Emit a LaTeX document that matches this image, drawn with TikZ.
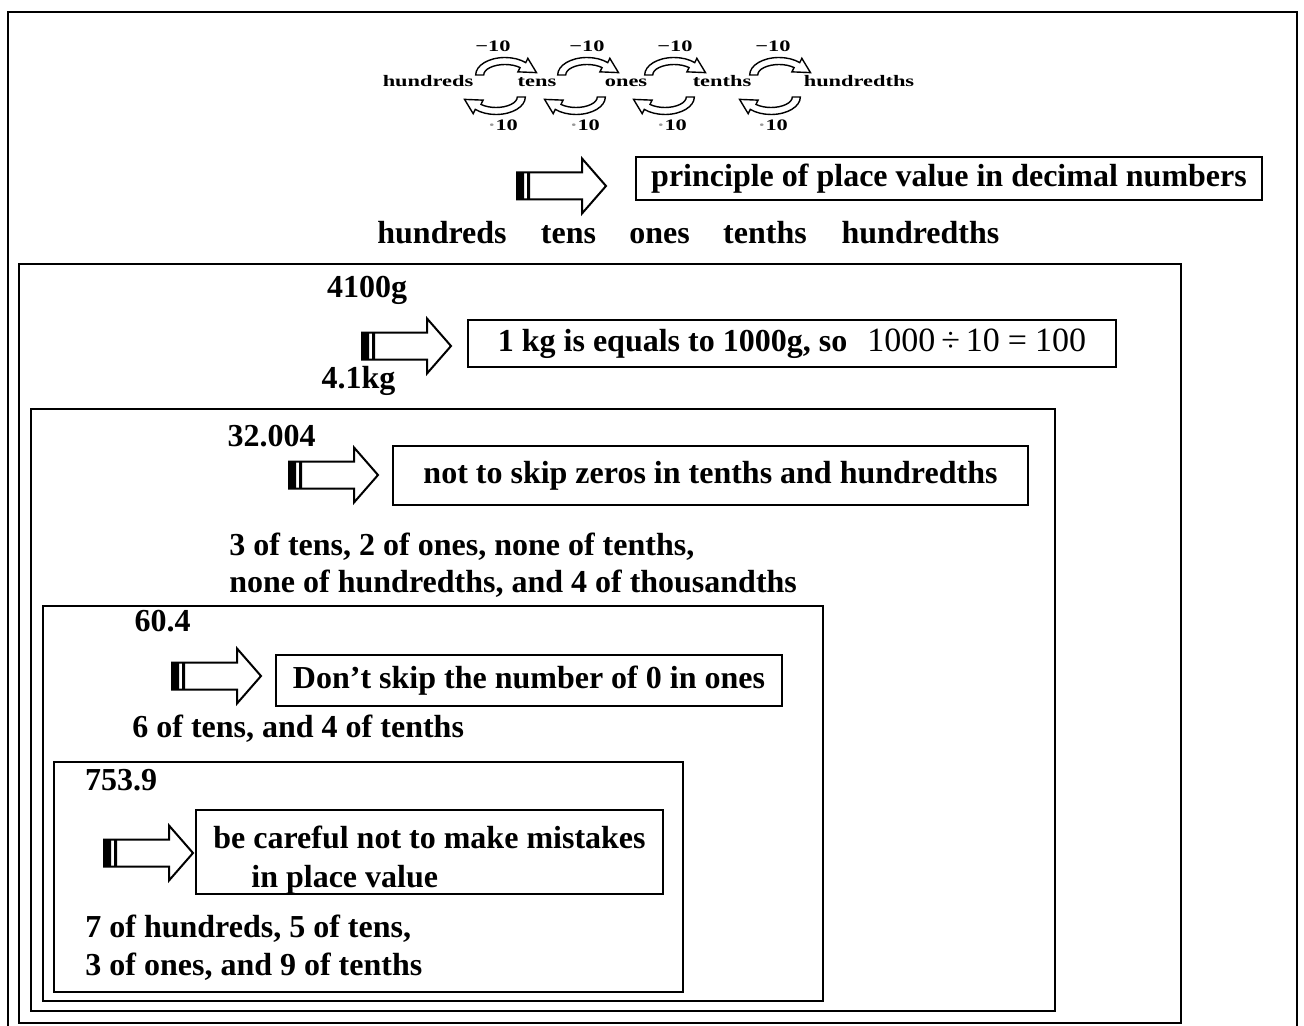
\documentclass[tikz,border=0pt]{standalone}
\usepackage{fontspec}
\setmainfont{Liberation Serif}
\usepackage{graphicx}
\usetikzlibrary{positioning}

\newcommand{\stretchlab}[1]{\scalebox{1.4}[1]{#1}}

\tikzset{
  curlyarrow/.pic={
    \begin{scope}[yscale=-1, line width=0.7pt]
      \draw[fill=white] (-25.5,0) arc[start angle=180, end angle=45, x radius=25.5, y radius=17.5]
        -- (19.86,16.65) -- (27.36,2.38) -- (11.26,3.15)
        -- (13.08,7.42) arc[start angle=45, end angle=180, x radius=18.5, y radius=10.5] -- cycle;
    \end{scope}
  },
  fatarrow/.pic={
    \draw[line width=1pt, fill=white] (0,-13.5) -- (65,-13.5) -- (65,-27.5) -- (89,0)
      -- (65,27.5) -- (65,13.5) -- (0,13.5) -- cycle;
    \fill (0,-13.5) rectangle (7,13.5) (10,-13.5) rectangle (13,13.5);
  }
}

\begin{document}
\begin{tikzpicture}[x=0.5pt, y=-0.5pt,
  smalllab/.style={font=\bfseries\fontsize{8}{9}\selectfont, inner sep=0},
  mainlab/.style={font=\bfseries\fontsize{16}{18.5}\selectfont, inner sep=0},
  textbox/.style={mainlab, draw, line width=1pt, align=center},
  frame/.style={line width=1pt}]
\useasboundingbox (0,0) rectangle (1304,1026);

% nested frames
\draw[frame] (8,1026) -- (8,12) -- (1297,12) -- (1297,1026);
\draw[frame] (19,264) rectangle (1181,1023);
\draw[frame] (31,409) rectangle (1055,1011);
\draw[frame] (43,606) rectangle (823,1001);
\draw[frame] (54,762) rectangle (683,992);

% small place value chain
\foreach \x/\w [count=\i] in {428/hundreds,537/tens,626/ones,722/tenths,859/hundredths}
  \node[smalllab, anchor=base] (p\i) at (\x,87) {\stretchlab{\w}};
\foreach \x/\y [count=\i] in {493/505,587/587,675/674,773/779} {
  \node[smalllab] (d\i) at (\x,46) {\stretchlab{−10}};
  \pic[xscale=1.15] at (\y,75) {curlyarrow};
}
\foreach \x/\y [count=\i] in {503/496,585/576,672/665,773/771} {
  \node[smalllab] (m\i) at (\x,125) {\stretchlab{{\color{black!40}·}10}};
  \pic[xscale=1.15, rotate=180] at (\y,97) {curlyarrow};
}

% principle
\pic at (517,186) {fatarrow};
\node[textbox, minimum width=313pt, minimum height=21.5pt] (principle) at (949,178.5)
  {principle of place value in decimal numbers};
\foreach \x/\w [count=\i] in {442/hundreds,568.5/tens,659.5/ones,765/tenths,920.5/hundredths}
  \node[mainlab, anchor=base] (q\i) at (\x,244) {\w};

% 4100g
\node[mainlab] (gram) at (367,290) {4100g};
\node[mainlab] (kilo) at (358.5,381) {4.1kg};
\pic at (362,346) {fatarrow};
\node[textbox, minimum width=324pt, minimum height=23.5pt] (kgbox) at (792,343.5)
  {1 kg is equals to 1000g, so\hspace{10pt}{\mdseries\fontsize{17}{20}\selectfont
  1000\hspace{3pt}÷\hspace{3pt}10\hspace{4pt}=\hspace{4pt}100}};

% 32.004
\node[mainlab] (num1) at (271.5,436) {32.004};
\pic at (289,475) {fatarrow};
\node[textbox, minimum width=317.5pt, minimum height=29.5pt] (zerobox) at (710.5,475.5)
  {not to skip zeros in tenths and hundredths};
\node[mainlab, anchor=west, align=left] (read1) at (229,565)
  {3 of tens, 2 of ones, none of tenths,\\none of hundredths, and 4 of thousandths};

% 60.4
\node[mainlab] (num2) at (162.5,621) {60.4};
\pic at (172,676) {fatarrow};
\node[textbox, minimum width=253pt, minimum height=25.5pt] (onesbox) at (529,680.5)
  {Don’t skip the number of 0 in ones};
\node[mainlab, anchor=west] (read2) at (132,729) {6 of tens, and 4 of tenths};

% 753.9
\node[mainlab] (num3) at (121,780) {753.9};
\pic at (104,853) {fatarrow};
\node[textbox, align=left, font=\bfseries\fontsize{16}{19.5}\selectfont,
  minimum width=233.5pt, minimum height=42pt] (carebox) at (429.5,852)
  {\rule{0pt}{19pt}be careful not to make mistakes\\\hspace*{19pt}in place value};
\node[mainlab, anchor=west, align=left, font=\bfseries\fontsize{16}{19}\selectfont] (read3) at (85,948)
  {7 of hundreds, 5 of tens,\\3 of ones, and 9 of tenths};
\end{tikzpicture}
\end{document}
